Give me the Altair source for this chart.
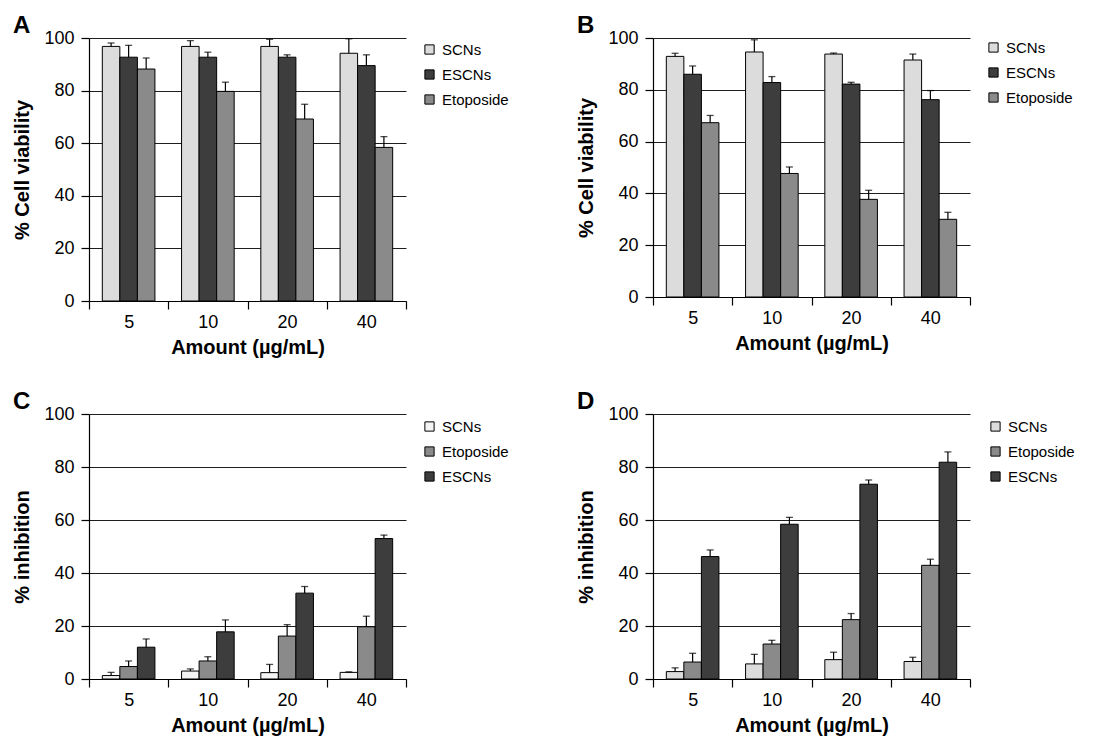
import altair as alt
import pandas as pd

amounts = ["5", "10", "20", "40"]

# Panel A: % cell viability
a_names = ["SCNs", "ESCNs", "Etoposide"]
a_scns = [96.8, 96.8, 96.8, 94.2]
a_scns_err = [1.3, 2.2, 2.7, 5.5]
a_escns = [92.7, 92.7, 92.7, 89.5]
a_escns_err = [4.5, 1.9, 0.9, 4.1]
a_etop = [88.2, 79.7, 69.2, 58.4]
a_etop_err = [4.2, 3.5, 5.6, 4.1]

# Panel B: % cell viability
b_names = ["SCNs", "ESCNs", "Etoposide"]
b_scns = [92.9, 94.6, 93.8, 91.5]
b_scns_err = [1.2, 4.7, 0.4, 2.3]
b_escns = [86.0, 82.8, 82.2, 76.2]
b_escns_err = [3.2, 2.3, 0.7, 3.5]
b_etop = [67.3, 47.7, 37.7, 30.0]
b_etop_err = [2.8, 2.5, 3.5, 2.7]

# Panel C: % inhibition
c_names = ["SCNs", "Etoposide", "ESCNs"]
c_scns = [1.3, 3.0, 2.4, 2.5]
c_scns_err = [1.2, 0.8, 3.1, 0.2]
c_etop = [4.7, 6.8, 16.2, 19.7]
c_etop_err = [2.1, 1.6, 4.3, 4.0]
c_escns = [12.0, 17.8, 32.4, 53.0]
c_escns_err = [3.1, 4.5, 2.5, 1.3]

# Panel D: % inhibition
d_names = ["SCNs", "Etoposide", "ESCNs"]
d_scns = [2.8, 5.7, 7.3, 6.6]
d_scns_err = [1.4, 3.6, 2.8, 1.6]
d_etop = [6.4, 13.2, 22.4, 42.9]
d_etop_err = [3.3, 1.4, 2.3, 2.3]
d_escns = [46.2, 58.4, 73.5, 81.8]
d_escns_err = [2.5, 2.6, 1.6, 3.9]

FONT = "Liberation Sans"
PANEL_W = 317


def panel(letter, ytitle, names, vals, errs, colors, h, lx, ly):
    rows = []
    for n, vs, es in zip(names, vals, errs):
        for a, v, e in zip(amounts, vs, es):
            rows.append({"amount": a, "series": n, "value": v, "hi": v + e})
    df = pd.DataFrame(rows)

    x = alt.X(
        "amount:N",
        sort=amounts,
        scale=alt.Scale(paddingInner=0, paddingOuter=0),
        axis=alt.Axis(
            title="Amount (µg/mL)",
            tickBand="extent",
            labelAngle=0,
            tickSize=8,
            labelPadding=4,
            titlePadding=6,
        ),
    )
    xo = alt.XOffset(
        "series:N", sort=names, scale=alt.Scale(domain=names, paddingInner=0, paddingOuter=0.76)
    )
    yaxis = alt.Axis(
        title=ytitle,
        values=[0, 20, 40, 60, 80, 100],
        grid=True,
        tickSize=8,
        labelPadding=7,
        titlePadding=11,
    )
    yscale = alt.Scale(domain=[0, 100], nice=False)
    color = alt.Color(
        "series:N",
        sort=names,
        scale=alt.Scale(domain=names, range=colors),
        legend=alt.Legend(
            title=None,
            orient="none",
            legendX=lx,
            legendY=ly,
            symbolType="square",
            symbolSize=85,
            symbolStrokeColor="black",
            symbolStrokeWidth=1,
            labelFontSize=15,
            labelFont=FONT,
            labelColor="black",
            rowPadding=9,
            labelOffset=5,
            padding=0,
        ),
    )
    base = alt.Chart(df)
    bars = base.mark_bar(stroke="black", strokeWidth=1).encode(
        x=x, xOffset=xo, y=alt.Y("value:Q", scale=yscale, axis=yaxis), color=color
    )
    err = base.mark_rule(color="black", strokeWidth=1.2).encode(
        x=x,
        xOffset=xo,
        y=alt.Y("value:Q", scale=yscale, axis=yaxis),
        y2="hi:Q",
    )
    caps = base.mark_tick(color="black", size=7, thickness=1.3).encode(
        x=x, xOffset=xo, y=alt.Y("hi:Q", scale=yscale, axis=yaxis)
    )
    return alt.layer(bars, err, caps).properties(
        width=PANEL_W,
        height=h,
        title=alt.TitleParams(
            letter,
            anchor="start",
            frame="bounds",
            fontSize=24,
            fontWeight="bold",
            font=FONT,
            color="black",
            offset=-9,
        ),
    )


LIGHT = "#dcdcdc"
DARK = "#3d3d3d"
CHECK = "#8a8a8a"

A = panel(
    "A", "% Cell viability", a_names,
    [a_scns, a_escns, a_etop], [a_scns_err, a_escns_err, a_etop_err],
    [LIGHT, DARK, CHECK], 263, PANEL_W + 16, 4,
)
B = panel(
    "B", "% Cell viability", b_names,
    [b_scns, b_escns, b_etop], [b_scns_err, b_escns_err, b_etop_err],
    [LIGHT, DARK, CHECK], 259, PANEL_W + 16, 2,
)
C = panel(
    "C", "% inhibition", c_names,
    [c_scns, c_etop, c_escns], [c_scns_err, c_etop_err, c_escns_err],
    ["#f4f4f4", CHECK, DARK], 265, PANEL_W + 16, 5,
)
D = panel(
    "D", "% inhibition", d_names,
    [d_scns, d_etop, d_escns], [d_scns_err, d_etop_err, d_escns_err],
    [LIGHT, CHECK, DARK], 265, PANEL_W + 18, 5,
)

chart = (
    alt.concat(A, B, C, D, columns=2, spacing={"row": 113, "column": 247}, bounds="flush")
    .resolve_scale(color="independent", xOffset="independent")
    .resolve_legend(color="independent")
    .properties(padding={"left": 4, "top": 6, "right": 5, "bottom": 5})
    .configure_view(stroke=None)
    .configure_axis(
        labelFont=FONT,
        titleFont=FONT,
        labelFontSize=18,
        titleFontSize=20,
        titleFontWeight="bold",
        labelColor="black",
        titleColor="black",
        domainColor="black",
        tickColor="black",
        gridColor="#1e1e1e",
        gridOpacity=1,
        domainWidth=1.2,
        tickWidth=1.2,
    )
)

chart.save("out.html", embed_options={"renderer": "svg", "actions": False})
